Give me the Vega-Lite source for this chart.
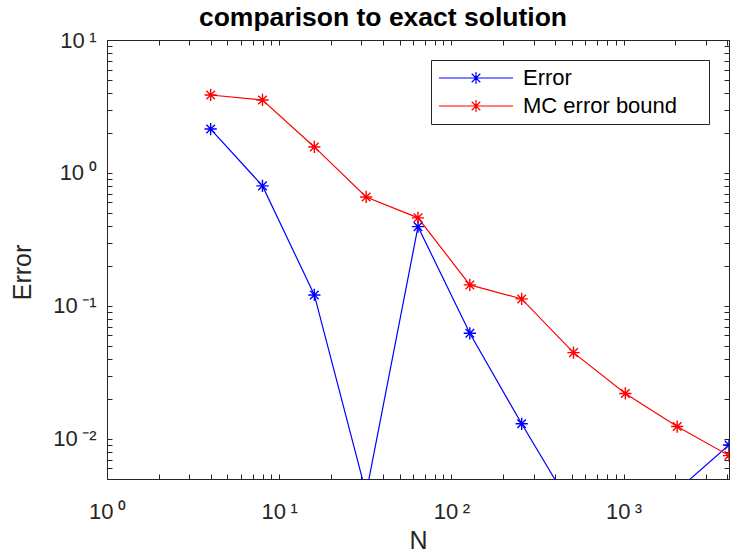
{
  "$schema": "https://vega.github.io/schema/vega-lite/v6.json",
  "width": 622,
  "height": 439,
  "autosize": {"type": "none"},
  "padding": {"left": 107, "top": 40, "right": 1, "bottom": 75},
  "title": {
    "text": "comparison to exact solution",
    "font": "Liberation Sans",
    "fontSize": 26.5,
    "fontWeight": "bold",
    "color": "black",
    "anchor": "middle",
    "dx": -35,
    "baseline": "alphabetic",
    "offset": -23
  },
  "data": {
    "values": [
      {"N": 4, "err": 2.14, "series": "Error"},
      {"N": 8, "err": 0.80, "series": "Error"},
      {"N": 16, "err": 0.121, "series": "Error"},
      {"N": 32, "err": 0.0039, "series": "Error"},
      {"N": 64, "err": 0.395, "series": "Error"},
      {"N": 128, "err": 0.0623, "series": "Error"},
      {"N": 256, "err": 0.0130, "series": "Error"},
      {"N": 512, "err": 0.0029, "series": "Error"},
      {"N": 1024, "err": 0.0021, "series": "Error"},
      {"N": 2048, "err": 0.0041, "series": "Error"},
      {"N": 4096, "err": 0.0090, "series": "Error"},
      {"N": 4, "err": 3.86, "series": "MC error bound"},
      {"N": 8, "err": 3.54, "series": "MC error bound"},
      {"N": 16, "err": 1.57, "series": "MC error bound"},
      {"N": 32, "err": 0.66, "series": "MC error bound"},
      {"N": 64, "err": 0.46, "series": "MC error bound"},
      {"N": 128, "err": 0.144, "series": "MC error bound"},
      {"N": 256, "err": 0.113, "series": "MC error bound"},
      {"N": 512, "err": 0.0446, "series": "MC error bound"},
      {"N": 1024, "err": 0.022, "series": "MC error bound"},
      {"N": 2048, "err": 0.0124, "series": "MC error bound"},
      {"N": 4096, "err": 0.0075, "series": "MC error bound"}
    ]
  },
  "resolve": {"axis": {"x": "independent", "y": "independent"}},
  "layer": [
    {
      "mark": {"type": "line", "clip": true, "strokeWidth": 1.2},
      "encoding": {
        "x": {
          "field": "N", "type": "quantitative",
          "scale": {"type": "log", "domain": [1, 4096], "nice": false},
          "title": "N",
          "axis": {
            "orient": "bottom",
            "values": [1,2,3,4,5,6,7,8,9,10,20,30,40,50,60,70,80,90,100,200,300,400,500,600,700,800,900,1000,2000,3000,4000],
            "labelExpr": "datum.value == 1 ? '10\u2009⁰' : datum.value == 10 ? '10\u2009¹' : datum.value == 100 ? '10\u2009²' : datum.value == 1000 ? '10\u2009³' : ''",
            "labelPadding": 27,
            "titlePadding": 6
          }
        },
        "y": {
          "field": "err", "type": "quantitative",
          "scale": {"type": "log", "domain": [0.005, 10], "nice": false},
          "title": "Error",
          "axis": {
            "orient": "left",
            "values": [0.005,0.006,0.007,0.008,0.009,0.01,0.02,0.03,0.04,0.05,0.06,0.07,0.08,0.09,0.1,0.2,0.3,0.4,0.5,0.6,0.7,0.8,0.9,1,2,3,4,5,6,7,8,9,10],
            "labelExpr": "datum.value == 0.01 ? '10\u2009⁻²' : datum.value == 0.1 ? '10\u2009⁻¹' : datum.value == 1 ? '10\u2009⁰' : datum.value == 10 ? '10\u2009¹' : ''",
            "labelPadding": 16,
            "titlePadding": 17,
            "titleY": 232
          }
        },
        "color": {
          "field": "series", "type": "nominal",
          "scale": {"domain": ["Error", "MC error bound"], "range": ["#0000ff", "#ff0000"]},
          "legend": {
            "title": null,
            "orient": "top-right",
            "offset": 20,
            "symbolType": "M-1,0H1M0,-0.16V0.16M-0.16,0H0.16M-0.115,-0.115L0.115,0.115M-0.115,0.115L0.115,-0.115",
            "symbolSize": 5476,
            "symbolStrokeWidth": 1.2,
            "symbolFillColor": "transparent",
            "labelFont": "Liberation Sans",
            "labelFontSize": 22,
            "labelColor": "black",
            "labelOffset": 9,
            "labelLimit": 400,
            "labelExpr": "datum.label + '\u00a0\u00a0\u00a0\u00a0\u200b'",
            "clipHeight": 22,
            "rowPadding": 6,
            "padding": 7,
            "strokeColor": "#262626",
            "fillColor": "white",
            "cornerRadius": 0
          }
        },
        "order": {"field": "N", "type": "quantitative"}
      }
    },
    {
      "mark": {
        "type": "point",
        "clip": true,
        "filled": false,
        "shape": "M0,-1V1M-1,0H1M-0.7,-0.7L0.7,0.7M-0.7,0.7L0.7,-0.7",
        "size": 150,
        "strokeWidth": 1.4,
        "opacity": 1
      },
      "encoding": {
        "x": {"field": "N", "type": "quantitative", "axis": null},
        "y": {"field": "err", "type": "quantitative", "axis": null},
        "color": {"field": "series", "type": "nominal"}
      }
    },
    {
      "mark": {"type": "point", "clip": true, "opacity": 0},
      "encoding": {
        "x": {
          "field": "N", "type": "quantitative",
          "axis": {
            "orient": "top",
            "title": null,
            "labels": false,
            "values": [1,2,3,4,5,6,7,8,9,10,20,30,40,50,60,70,80,90,100,200,300,400,500,600,700,800,900,1000,2000,3000,4000]
          }
        },
        "y": {
          "field": "err", "type": "quantitative",
          "axis": {
            "orient": "right",
            "title": null,
            "labels": false,
            "values": [0.005,0.006,0.007,0.008,0.009,0.01,0.02,0.03,0.04,0.05,0.06,0.07,0.08,0.09,0.1,0.2,0.3,0.4,0.5,0.6,0.7,0.8,0.9,1,2,3,4,5,6,7,8,9,10]
          }
        }
      }
    }
  ],
  "config": {
    "view": {"stroke": "#262626", "strokeWidth": 1},
    "axis": {
      "grid": false,
      "domain": false,
      "tickSize": -5,
      "tickColor": "#262626",
      "tickWidth": 1,
      "labelFont": "Liberation Sans",
      "labelFontSize": 22,
      "labelColor": "#262626",
      "titleFont": "Liberation Sans",
      "titleFontSize": 25,
      "titleFontWeight": "normal",
      "titleColor": "#262626",
      "labelOverlap": false,
      "labelFlush": false
    }
  }
}
